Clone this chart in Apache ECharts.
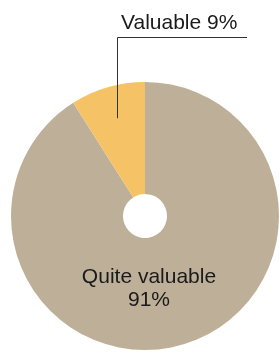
<!DOCTYPE html>
<html>
<head>
<meta charset="utf-8">
<script src="https://cdn.jsdelivr.net/npm/echarts@6/dist/echarts.min.js"></script>
<style>
html, body { margin: 0; padding: 0; background: #fff; }
#chart { width: 279px; height: 352px; }
</style>
</head>
<body>
<div id="chart"></div>
<script>
var names = ['Quite valuable', 'Valuable'];
var values = [91, 9];
var colors = ['#beb098', '#f5c266'];

var cx = 145, cy = 216, r0 = 22, r1 = 134;
var total = values[0] + values[1];
// middle angle of the small slice (pie starts at 90deg, clockwise)
var midAng = (90 + 360 * (values[1] / 2) / total) * Math.PI / 180;
var lx = Math.round(cx + r1 * 0.76 * Math.cos(midAng)) + 0.5;
var ly = cy - r1 * 0.76 * Math.sin(midAng);

var chart = echarts.init(document.getElementById('chart'));
var option = {
    animation: false,
    graphic: [{
        type: 'polyline',
        z: 100,
        silent: true,
        shape: { points: [[lx, ly], [lx, 37.5], [247, 37.5]] },
        style: { stroke: '#333', lineWidth: 1, fill: null }
    }],
    series: [{
        type: 'pie',
        center: [cx, cy],
        radius: [r0, r1],
        startAngle: 90,
        clockwise: true,
        silent: true,
        emphasis: { disabled: true },
        label: {
            color: '#1a1a1a',
            fontFamily: 'Liberation Sans',
            fontSize: 21,
            lineHeight: 23,
            overflow: 'none',
            formatter: function (p) {
                return p.dataIndex === 0 ? p.name + '\n' + p.value + '%' : p.name + ' ' + p.value + '%';
            }
        },
        labelLine: { show: false },
        labelLayout: function (p) {
            if (p.dataIndex === 1) {
                return { x: 121, y: 35, align: 'left', verticalAlign: 'bottom', width: 150 };
            }
            return { x: 149, y: 289, align: 'center', verticalAlign: 'middle', width: 200 };
        },
        data: [
            { name: names[0], value: values[0], itemStyle: { color: colors[0] } },
            { name: names[1], value: values[1], itemStyle: { color: colors[1] } }
        ]
    }]
};
chart.setOption(option);
</script>
</body>
</html>
